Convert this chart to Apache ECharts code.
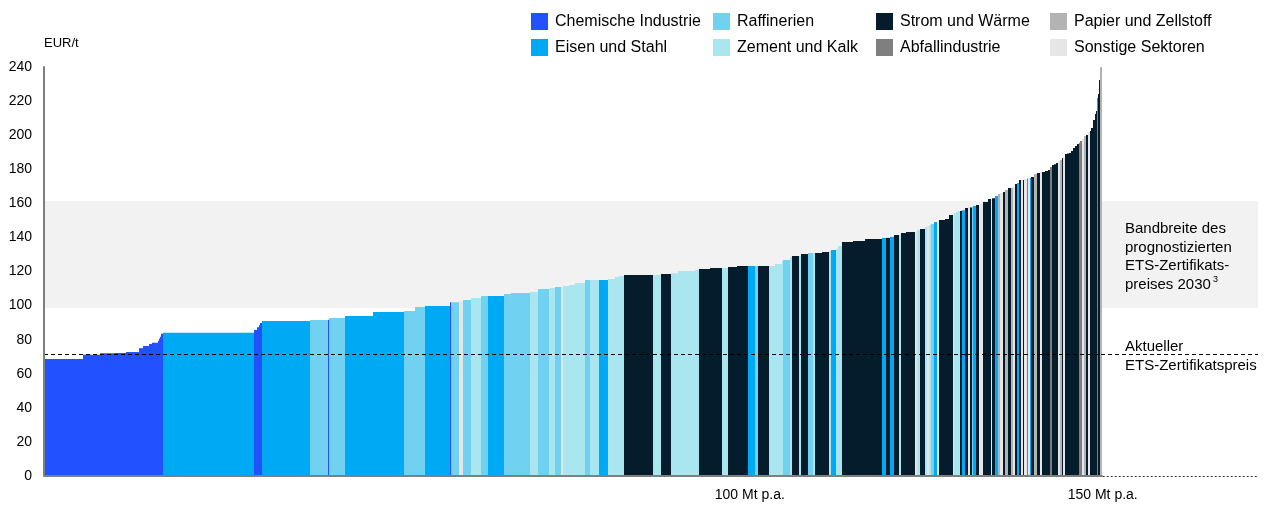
<!DOCTYPE html>
<html>
<head>
<meta charset="utf-8">
<script src="https://cdn.jsdelivr.net/npm/echarts@6/dist/echarts.min.js"></script>
<style>
  html, body { margin: 0; padding: 0; background: #fff; }
  #chart { width: 1266px; height: 505px; }
</style>
</head>
<body>
<div id="chart"></div>
<script>
// Sektoren (Kürzel, Name, Farbe)
const sectorCodes = ['C', 'E', 'R', 'Z', 'S', 'A', 'P', 'O'];
const sectorNames = ['Chemische Industrie', 'Eisen und Stahl', 'Raffinerien', 'Zement und Kalk',
  'Strom und Wärme', 'Abfallindustrie', 'Papier und Zellstoff', 'Sonstige Sektoren'];
const sectorColors = ['#2251ff', '#00a9f4', '#71d1f1', '#aae6f0', '#051c2c', '#7f7f7f', '#b3b3b3', '#e6e6e6'];

// Breite der Balken: Emissionsmenge in Mt p.a.
const widths = [
  5.53, 2.41, 2.08, 1.60, 1.84, 0.57, 0.85, 0.47, 0.77, 0.18, 0.14, 0.14, 0.28,
  12.90,
  0.43, 0.28, 0.14, 0.28,
  6.81,
  2.60, 0.13, 2.24,
  3.97, 4.40, 1.56, 1.42, 3.55,
  0.14, 1.13, 0.57, 1.13, 1.42, 0.99, 2.27, 0.99, 2.69, 1.13, 1.56, 0.85, 0.85, 0.28,
  0.85, 0.85, 1.42, 0.71, 1.28, 1.28, 0.99, 0.57, 0.71,
  4.11, 1.13, 1.42, 0.99, 2.41, 0.57, 1.56, 1.70, 0.85, 1.28, 1.56, 0.99, 0.43, 1.42, 0.85,
  0.99, 0.28, 0.99, 0.28, 0.99, 0.28, 0.99, 0.71, 0.28, 0.99, 0.99, 0.28, 0.71, 0.28, 0.57,
  1.56, 1.70, 2.41, 0.57, 0.57, 0.57, 0.71, 0.28, 0.71, 1.28,
  0.28, 0.43, 0.71, 0.28, 0.28, 0.28, 0.43, 0.43, 0.28, 0.85, 0.57, 0.43,
  0.28, 0.28, 0.28, 0.28, 0.28, 0.43, 0.43, 0.28, 0.28, 0.14, 0.43, 0.43, 0.43, 0.71, 0.43, 0.14, 0.43, 0.43,
  0.28, 0.43, 0.28, 0.43, 0.43, 0.28, 0.28, 0.28, 0.28, 0.28, 0.28, 0.14, 0.43, 0.14, 0.28, 0.14, 0.43, 0.43, 0.43, 0.28, 0.43, 0.43,
  0.28, 0.28, 0.28, 0.28, 0.28, 0.28, 0.28, 0.28, 0.28, 0.28, 0.28, 0.28, 0.28, 0.28, 0.28, 0.28,
  0.14, 0.28, 0.28, 0.28, 0.28, 0.28, 0.14, 0.28, 0.28,
  0.14, 0.14, 0.14, 0.14, 0.14, 0.21
];

// Vermeidungskosten in EUR/t
const values = [
  68.7, 71.2, 72, 72.2, 72.8, 75, 76.3, 77.5, 78.2, 79.4, 80.6, 81.7, 83.4,
  84,
  85.7, 87.3, 88.4, 89.8,
  91,
  91.5, 91.7, 92.7,
  93.9, 96.2, 96.8, 99.2, 99.8,
  102, 102, 102.6, 103.3, 104.5, 105.6, 105.6, 106.8, 107.4, 108, 109.7, 110.3, 110.9, 111,
  111.5, 112.1, 113.3, 115, 115, 115, 115.6, 116.8, 117.4,
  118, 118, 118.5, 119, 120.3, 120.9, 121.5, 122, 122, 122.7, 123.2, 123.2, 123.2, 123.2, 123.2,
  124.4, 126.2, 126.8, 128.5, 129.1, 129.1, 130.3, 130.9, 130.9, 130.9, 131.5, 132, 132.6, 133.2, 135,
  137.3, 137.9, 139, 139.7, 139.7, 140.3, 141.4, 141.4, 142.6, 143.2,
  143.5, 144.4, 145, 146.1, 146.7, 147.3, 147.9, 149, 149.5, 150.2, 150.8, 153.2,
  153.8, 154.4, 155, 155.5, 155.5, 156, 157.3, 157.5, 157.5, 158, 158.4, 159, 159.6, 160.8, 162.5, 162.5, 163, 164.3,
  165.5, 166, 166.7, 167.8, 169, 169.2, 169.6, 171.4, 172, 173.7, 173.7, 173.7, 174.3, 174.5, 174.8, 174.9, 175.5, 177.2, 177.8, 178.4, 178.4, 179,
  179.6, 181.3, 182.5, 183, 183.7, 184.9, 185.4, 186.6, 187, 189, 189.2, 189.6, 190.7, 192.5, 193.7, 194.8,
  195.5, 196.6, 197.8, 199.5, 200.1, 201.9, 202.5, 204.2, 208.9,
  212.4, 214.2, 221.8, 224.2, 232.4, 240
];

// Sektor je Balken
const sectors = [
  'C', 'C', 'C', 'C', 'C', 'C', 'C', 'C', 'C', 'C', 'C', 'C', 'C',
  'E',
  'C', 'C', 'C', 'C',
  'E',
  'R', 'C', 'R',
  'E', 'E', 'R', 'R', 'E',
  'C', 'R', 'O', 'R', 'Z', 'R', 'E', 'R', 'R', 'Z', 'R', 'Z', 'R', 'O',
  'Z', 'Z', 'Z', 'R', 'Z', 'E', 'Z', 'Z', 'Z',
  'S', 'Z', 'S', 'Z', 'Z', 'Z', 'S', 'S', 'Z', 'S', 'S', 'E', 'R', 'S', 'Z',
  'Z', 'Z', 'R', 'Z', 'S', 'Z', 'S', 'R', 'Z', 'S', 'S', 'Z', 'E', 'Z', 'Z',
  'S', 'S', 'S', 'E', 'S', 'E', 'S', 'Z', 'S', 'S',
  'O', 'Z', 'S', 'Z', 'O', 'Z', 'R', 'E', 'O', 'S', 'S', 'S',
  'O', 'Z', 'Z', 'Z', 'S', 'E', 'S', 'O', 'S', 'R', 'E', 'S', 'O', 'S', 'S', 'O', 'S', 'E',
  'P', 'O', 'S', 'P', 'S', 'P', 'O', 'S', 'E', 'S', 'O', 'S', 'O', 'E', 'O', 'E', 'S', 'P', 'S', 'O', 'S', 'S',
  'S', 'A', 'S', 'S', 'S', 'O', 'P', 'S', 'O', 'S', 'S', 'S', 'S', 'S', 'S', 'S',
  'A', 'A', 'O', 'P', 'S', 'O', 'S', 'S', 'S',
  'S', 'S', 'E', 'S', 'S', 'P'
];

const xLabelValues = [100, 150];
const bandRange = [98.6, 161.4];   // Bandbreite ETS-Preis 2030
const etsPrice = 71.5;             // aktueller ETS-Preis
const curveEnd = 150;

const fontFamily = 'Arial, "Liberation Sans", sans-serif';

// Start/Ende je Balken aufaddieren
const bars = [];
let acc = 0;
for (let i = 0; i < widths.length; i++) {
  bars.push({ start: acc, end: acc + widths[i], value: values[i], sector: sectors[i] });
  acc += widths[i];
}

const renderBar = (params, api) => {
  const top = api.coord([api.value(0), api.value(2)]);
  const bottom = api.coord([api.value(1), 0]);
  const x0 = Math.round(top[0]);
  const x1 = Math.round(bottom[0]);
  return {
    type: 'rect',
    shape: { x: x0, y: top[1], width: Math.max(x1 - x0, 1), height: bottom[1] - top[1] },
    style: { fill: api.visual('color') }
  };
};

const barSeries = sectorCodes.map((code, i) => ({
  name: sectorNames[i],
  type: 'custom',
  z: 2,
  silent: true,
  itemStyle: { color: sectorColors[i] },
  encode: { x: [0, 1], y: 2 },
  renderItem: renderBar,
  data: bars.filter(b => b.sector === code).map(b => [b.start, b.end, b.value])
}));

const legendLefts = [531, 713, 876, 1050];
const legends = legendLefts.map((left, col) => ({
  data: [sectorNames[col * 2], sectorNames[col * 2 + 1]],
  orient: 'vertical',
  left: left,
  top: 13,
  padding: 0,
  itemWidth: 17,
  itemHeight: 17,
  itemGap: 9,
  icon: 'rect',
  selectedMode: false,
  textStyle: { fontSize: 16, color: '#000', fontFamily: fontFamily, lineHeight: 17, padding: [0, 0, 0, 2] }
}));

const myChart = echarts.init(document.getElementById('chart'));

const option = {
  animation: false,
  backgroundColor: '#fff',
  textStyle: { fontFamily: fontFamily },
  grid: { left: 44, top: 67, width: 1214, height: 409, containLabel: false },
  legend: legends,
  xAxis: {
    type: 'value',
    min: 0,
    max: 172,
    interval: 50,
    axisLine: { show: false },
    axisTick: { show: false },
    splitLine: { show: false },
    axisLabel: {
      color: '#000',
      fontSize: 14,
      margin: 12,
      formatter: v => (xLabelValues.includes(v) ? v + ' Mt p.a.' : '')
    }
  },
  yAxis: {
    type: 'value',
    min: 0,
    max: 240,
    interval: 20,
    z: 10,
    name: 'EUR/t',
    nameLocation: 'end',
    nameGap: 17,
    nameTextStyle: { align: 'left', color: '#000', fontSize: 13 },
    axisLine: { show: true, lineStyle: { color: '#7f7f7f', width: 2 } },
    axisTick: { show: false },
    splitLine: { show: false },
    axisLabel: { color: '#000', fontSize: 14, margin: 12 }
  },
  series: [
    {
      name: 'band',
      type: 'line',
      z: 1,
      data: [],
      silent: true,
      markArea: {
        silent: true,
        itemStyle: { color: '#f2f2f2' },
        data: [[{ yAxis: bandRange[0] }, { yAxis: bandRange[1] }]]
      }
    },
    ...barSeries,
    {
      name: 'lines',
      type: 'line',
      z: 5,
      data: [],
      silent: true,
      markLine: {
        silent: true,
        symbol: 'none',
        label: { show: false },
        data: [
          { yAxis: etsPrice, lineStyle: { color: '#000', type: [4, 3], width: 1 } },
          [{ coord: [0, 0], lineStyle: { color: '#7f7f7f', type: 'solid', width: 2 } }, { coord: [curveEnd, 0] }],
          [{ coord: [curveEnd, 0], lineStyle: { color: '#333', type: [2, 2], width: 1 } }, { coord: [172, 0] }]
        ]
      }
    }
  ],
  graphic: [
    {
      type: 'text',
      left: 1125,
      top: 220,
      z: 20,
      style: {
        text: 'Bandbreite des\nprognostizierten\nETS-Zertifikats-\npreises 2030{sup|3}',
        fill: '#000',
        fontSize: 15,
        fontFamily: fontFamily,
        lineHeight: 18.5,
        rich: { sup: { fontSize: 9, verticalAlign: 'top', lineHeight: 18.5, padding: [0, 0, 0, 2] } }
      }
    },
    {
      type: 'text',
      left: 1125,
      top: 338,
      z: 20,
      style: {
        text: 'Aktueller\nETS-Zertifikatspreis',
        fill: '#000',
        fontSize: 15,
        fontFamily: fontFamily,
        lineHeight: 18.5
      }
    }
  ]
};

myChart.setOption(option);

window.addEventListener('resize', () => myChart.resize());
</script>
</body>
</html>
